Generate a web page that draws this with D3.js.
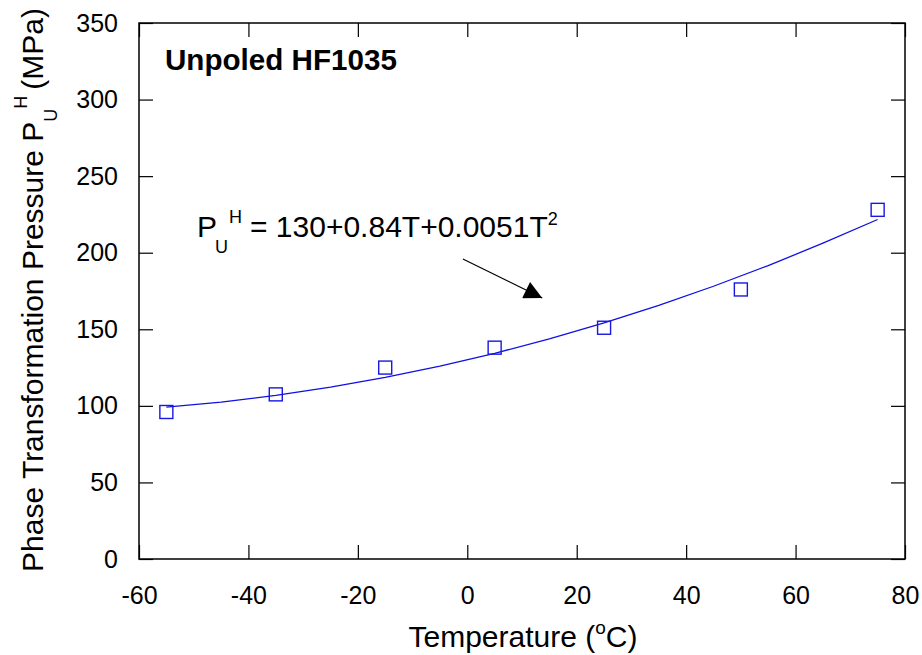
<!DOCTYPE html>
<html>
<head>
<meta charset="utf-8">
<script src="https://d3js.org/d3.v7.min.js"></script>
<style>
  body { margin: 0; background: #fff; }
  text { font-family: "Liberation Sans", Arial, sans-serif; fill: #000; }
</style>
</head>
<body>
<svg width="922" height="655"></svg>
<script>
// measured points
var tempC = [-55, -35, -15, 5, 25, 50, 75];
var pressure = [96, 107.5, 125, 138, 151, 176, 228];

// fitted curve
var curveT = [-55, -45, -35, -25, -15, -5, 5, 15, 25, 35, 45, 55, 65, 75];
var curveP = [99.2, 102.5, 106.8, 112.2, 118.6, 125.9, 134.3, 143.7, 154.2, 165.6, 178.1, 191.6, 206.2, 221.7];

var xTicks = [-60, -40, -20, 0, 20, 40, 60, 80];
var yTicks = [0, 50, 100, 150, 200, 250, 300, 350];

var svg = d3.select("svg"),
    margin = {top: 23, right: 17, bottom: 96, left: 139},
    width = +svg.attr("width") - margin.left - margin.right,
    height = +svg.attr("height") - margin.top - margin.bottom;

var x = d3.scaleLinear().domain([-60, 80]).range([0, width]);
var y = d3.scaleLinear().domain([0, 350]).range([height, 0]);

var g = svg.append("g")
    .attr("transform", "translate(" + margin.left + "," + margin.top + ")");

var tickLen = 14;

function styleAxis(sel) {
    sel.select(".domain").remove();
    sel.selectAll("line").attr("stroke", "#000").attr("stroke-width", 1.2);
    sel.selectAll("text").style("font-size", "25px").style("font-family", "Liberation Sans, Arial, sans-serif");
}

g.append("g")
    .attr("transform", "translate(0," + height + ")")
    .call(d3.axisBottom(x).tickValues(xTicks).tickSize(-tickLen).tickPadding(27).tickFormat(function(d) { return String(d); }))
    .call(styleAxis);

g.append("g")
    .call(d3.axisTop(x).tickValues(xTicks).tickSize(-tickLen).tickFormat(""))
    .call(styleAxis);

g.append("g")
    .call(d3.axisLeft(y).tickValues(yTicks).tickSize(-tickLen).tickPadding(21).tickFormat(function(d) { return String(d); }))
    .call(styleAxis);

g.append("g")
    .attr("transform", "translate(" + width + ",0)")
    .call(d3.axisRight(y).tickValues(yTicks).tickSize(-tickLen).tickFormat(""))
    .call(styleAxis);

g.append("rect")
    .attr("width", width)
    .attr("height", height)
    .attr("fill", "none")
    .attr("stroke", "#000")
    .attr("stroke-width", 1.5);

// fitted curve
var line = d3.line()
    .x(function(d, i) { return x(curveT[i]); })
    .y(function(d) { return y(d); });

g.append("path")
    .datum(curveP)
    .attr("d", line)
    .attr("fill", "none")
    .attr("stroke", "#1010e0")
    .attr("stroke-width", 1.3);

// squares
var sq = 13;
g.selectAll(".pt")
    .data(pressure)
    .enter().append("rect")
    .attr("x", function(d, i) { return x(tempC[i]) - sq / 2; })
    .attr("y", function(d) { return y(d) - sq / 2; })
    .attr("width", sq)
    .attr("height", sq)
    .attr("fill", "none")
    .attr("stroke", "#1818e0")
    .attr("stroke-width", 1.4);

// title
g.append("text")
    .attr("x", 26)
    .attr("y", 46.5)
    .style("font-size", "29.6px")
    .style("font-weight", "bold")
    .text("Unpoled HF1035");

// equation
var eq = g.append("text")
    .attr("x", 58)
    .attr("y", 213.7)
    .style("font-size", "30px");
eq.append("tspan").text("P");
eq.append("tspan").attr("x", 76).attr("dy", 16).style("font-size", "18px").text("U");
eq.append("tspan").attr("x", 90).attr("dy", -30).style("font-size", "18px").text("H");
eq.append("tspan").attr("x", 111).attr("dy", 14).text("= 130+0.84T+0.0051T");
eq.append("tspan").attr("dy", -12).style("font-size", "18px").text("2");

// arrow
svg.append("defs").append("marker")
    .attr("id", "arr")
    .attr("viewBox", "0 0 10 10")
    .attr("refX", 10).attr("refY", 5)
    .attr("markerWidth", 26).attr("markerHeight", 18)
    .attr("markerUnits", "userSpaceOnUse")
    .attr("orient", "auto")
    .append("path").attr("d", "M0,0 L10,5 L0,10 Z").attr("fill", "#000");

g.append("line")
    .attr("x1", x(-0.8)).attr("y1", y(195.9))
    .attr("x2", x(13.7)).attr("y2", y(170.4))
    .attr("stroke", "#000")
    .attr("stroke-width", 1.2)
    .attr("marker-end", "url(#arr)");

// axis labels
var xl = svg.append("text")
    .attr("x", 523)
    .attr("y", 646.5)
    .attr("text-anchor", "middle")
    .style("font-size", "30px");
xl.append("tspan").text("Temperature (");
xl.append("tspan").attr("dy", -13).style("font-size", "19px").text("o");
xl.append("tspan").attr("dy", 13).text("C)");

var yl = svg.append("text")
    .attr("transform", "translate(43,290) rotate(-90)")
    .attr("text-anchor", "middle")
    .style("font-size", "30px");
yl.append("tspan").text("Phase Transformation Pressure P");
yl.append("tspan").attr("dy", 14).style("font-size", "18px").text("U");
yl.append("tspan").attr("dy", -30).style("font-size", "18px").text("H");
yl.append("tspan").attr("dy", 16).attr("dx", 6).text("(MPa)");
</script>
</body>
</html>
